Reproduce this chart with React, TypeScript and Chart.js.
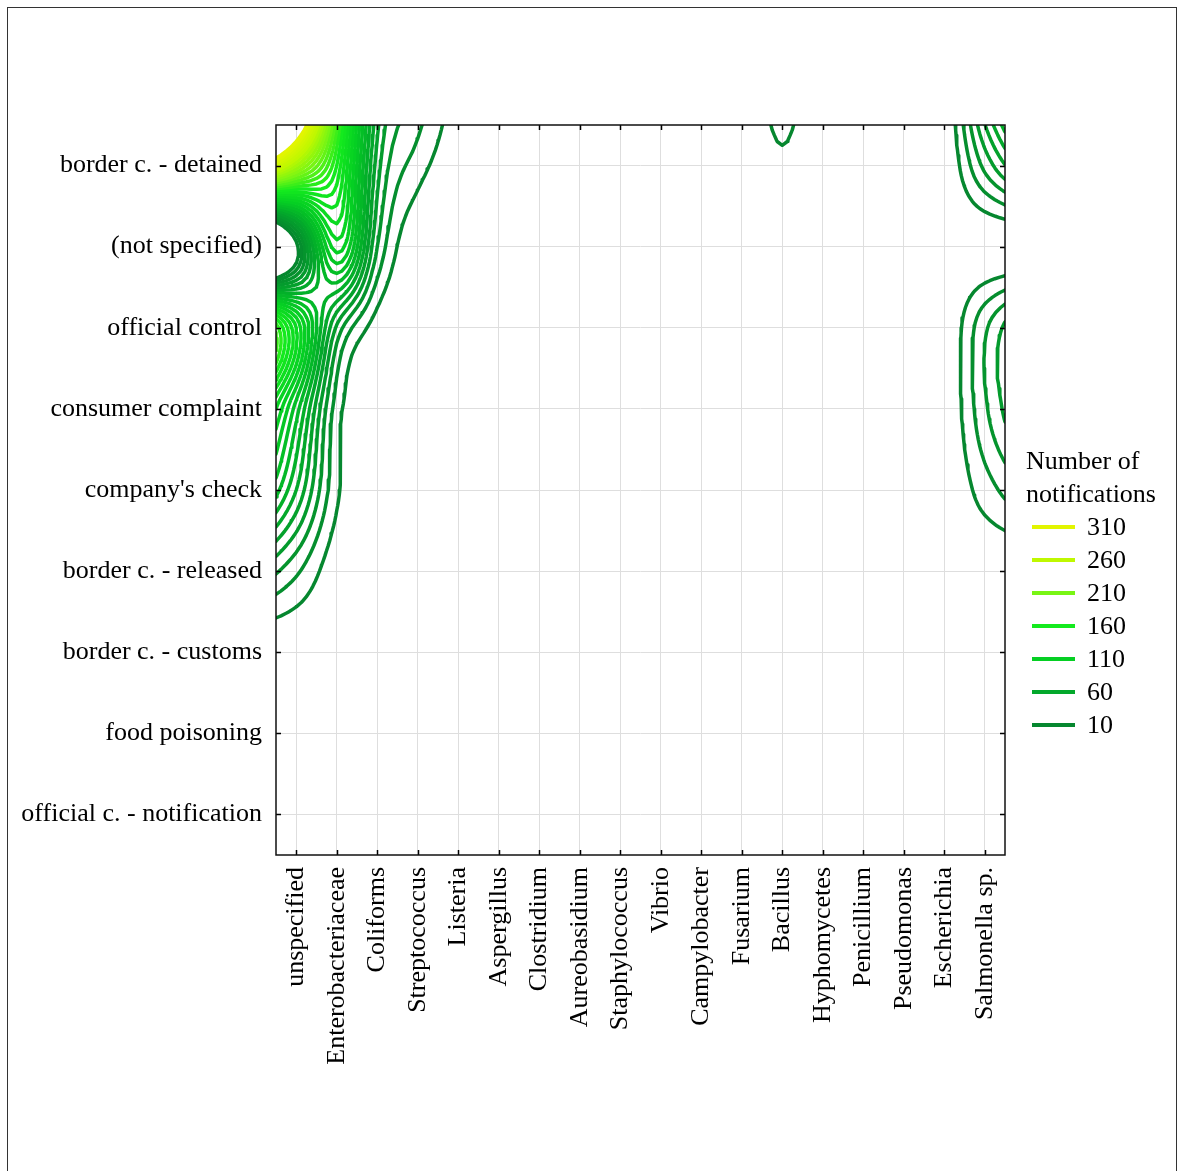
import React, { useEffect, useRef } from 'react';
import { Chart, registerables } from 'chart.js';

Chart.register(...registerables);

// Categories
const hazards = [
  'unspecified', 'Enterobacteriaceae', 'Coliforms', 'Streptococcus', 'Listeria',
  'Aspergillus', 'Clostridium', 'Aureobasidium', 'Staphylococcus', 'Vibrio',
  'Campylobacter', 'Fusarium', 'Bacillus', 'Hyphomycetes', 'Penicillium',
  'Pseudomonas', 'Escherichia', 'Salmonella sp.',
];
const bases = [
  'border c. - detained', '(not specified)', 'official control', 'consumer complaint',
  "company's check", 'border c. - released', 'border c. - customs', 'food poisoning',
  'official c. - notification',
];

// Number of notifications per notification basis (one value per hazard, in hazards order)
const borderDetained =       [240, 160, 45, 15, 3, 0, 0, 0, 0, 0, 0, 0, 8, 0, 0, 0, 0, 33];
const notSpecified =         [5, 115, 30, 0, 0, 0, 0, 0, 0, 0, 0, 0, 0, 0, 0, 0, 0, 0];
const officialControl =      [130, 38, 5, 0, 0, 0, 0, 0, 0, 0, 0, 0, 0, 0, 0, 0, 0, 28];
const consumerComplaint =    [85, 15, 0, 0, 0, 0, 0, 0, 0, 0, 0, 0, 0, 0, 0, 0, 0, 28];
const companysCheck =        [60, 12, 0, 0, 0, 0, 0, 0, 0, 0, 0, 0, 0, 0, 0, 0, 0, 15];
const borderReleased =       [22, 3, 0, 0, 0, 0, 0, 0, 0, 0, 0, 0, 0, 0, 0, 0, 0, 0];
const borderCustoms =        [0, 0, 0, 0, 0, 0, 0, 0, 0, 0, 0, 0, 0, 0, 0, 0, 0, 0];
const foodPoisoning =        [0, 0, 0, 0, 0, 0, 0, 0, 0, 0, 0, 0, 0, 0, 0, 0, 0, 0];
const officialNotification = [0, 0, 0, 0, 0, 0, 0, 0, 0, 0, 0, 0, 0, 0, 0, 0, 0, 0];

// Contour levels and legend
const contourLevels = [10, 20, 30, 40, 50, 60, 70, 80, 90, 100, 110, 120, 130, 140, 150, 160,
  170, 180, 190, 200, 210, 220, 230, 240, 250, 260, 270, 280, 290, 300, 310];
const legendLevels = [310, 260, 210, 160, 110, 60, 10];
const legendColors = ['#e2f500', '#bff800', '#78f514', '#14ea1e', '#05cf23', '#03a82b', '#06872f'];
const legendTitle = ['Number of', 'notifications'];

const FONT = '"Liberation Serif", "Times New Roman", serif';

function hexToRgb(h: string) {
  const n = parseInt(h.slice(1), 16);
  return [(n >> 16) & 255, (n >> 8) & 255, n & 255];
}

function levelColor(L: number) {
  const stops = legendLevels.map((v, i) => ({ v, c: hexToRgb(legendColors[i]) })).sort((a, b) => a.v - b.v);
  if (L <= stops[0].v) return legendColors[legendColors.length - 1];
  if (L >= stops[stops.length - 1].v) return legendColors[0];
  for (let i = 0; i < stops.length - 1; i++) {
    const a = stops[i], b = stops[i + 1];
    if (L >= a.v && L <= b.v) {
      const t = (L - a.v) / (b.v - a.v);
      const c = a.c.map((x, k) => Math.round(x + (b.c[k] - x) * t));
      return `rgb(${c[0]},${c[1]},${c[2]})`;
    }
  }
  return legendColors[0];
}

function catmull(p0: number, p1: number, p2: number, p3: number, t: number) {
  return 0.5 * (2 * p1 + (-p0 + p2) * t + (2 * p0 - 5 * p1 + 4 * p2 - p3) * t * t
    + (-p0 + 3 * p1 - 3 * p2 + p3) * t * t * t);
}

function buildContours(grid: number[][], levels: number[]) {
  const nR = grid.length, nC = grid[0].length;
  const colVal = (r: number, c: number) => {
    if (c < 0) return grid[r][0] + c * (grid[r][1] - grid[r][0]);
    if (c > nC - 1) return grid[r][nC - 1] + (c - nC + 1) * (grid[r][nC - 1] - grid[r][nC - 2]);
    return grid[r][c];
  };
  const val = (r: number, c: number) => {
    if (r < 0) return colVal(0, c) + r * (colVal(1, c) - colVal(0, c));
    if (r > nR - 1) return colVal(nR - 1, c) + (r - nR + 1) * (colVal(nR - 1, c) - colVal(nR - 2, c));
    return colVal(r, c);
  };
  const field = (gi: number, gj: number) => {
    const c = Math.floor(gi), r = Math.floor(gj);
    const t = gi - c, u = gj - r;
    const rows: number[] = [];
    for (let k = -1; k <= 2; k++) {
      rows.push(catmull(val(r + k, c - 1), val(r + k, c), val(r + k, c + 1), val(r + k, c + 2), t));
    }
    return catmull(rows[0], rows[1], rows[2], rows[3], u);
  };
  const SX = 8, SY = 16;
  const nx = nC * SX + 1, ny = nR * SY + 1;
  const gx = (a: number) => -0.5 + a / SX;
  const gy = (b: number) => -0.5 + b / SY;
  const F: number[][] = [];
  for (let b = 0; b < ny; b++) {
    const row: number[] = [];
    for (let a = 0; a < nx; a++) row.push(field(gx(a), gy(b)));
    F.push(row);
  }
  return levels.map((L) => {
    const pos = new Map<string, [number, number]>();
    const segs: [string, string][] = [];
    const hE = (a: number, b: number) => {
      const k = `h${a},${b}`;
      if (!pos.has(k)) {
        const v0 = F[b][a], v1 = F[b][a + 1];
        const t = (L - v0) / (v1 - v0);
        pos.set(k, [gx(a) + t / SX, gy(b)]);
      }
      return k;
    };
    const vE = (a: number, b: number) => {
      const k = `v${a},${b}`;
      if (!pos.has(k)) {
        const v0 = F[b][a], v1 = F[b + 1][a];
        const t = (L - v0) / (v1 - v0);
        pos.set(k, [gx(a), gy(b) + t / SY]);
      }
      return k;
    };
    for (let b = 0; b < ny - 1; b++) {
      for (let a = 0; a < nx - 1; a++) {
        const v00 = F[b][a], v10 = F[b][a + 1], v11 = F[b + 1][a + 1], v01 = F[b + 1][a];
        const s00 = v00 >= L, s10 = v10 >= L, s11 = v11 >= L, s01 = v01 >= L;
        const e: (string | null)[] = [
          s00 !== s10 ? hE(a, b) : null,
          s10 !== s11 ? vE(a + 1, b) : null,
          s01 !== s11 ? hE(a, b + 1) : null,
          s00 !== s01 ? vE(a, b) : null,
        ];
        const present = e.filter((x) => x !== null) as string[];
        if (present.length === 2) {
          segs.push([present[0], present[1]]);
        } else if (present.length === 4) {
          const center = (v00 + v10 + v11 + v01) / 4 >= L;
          if (center === s00) {
            segs.push([e[0]!, e[1]!]);
            segs.push([e[2]!, e[3]!]);
          } else {
            segs.push([e[3]!, e[0]!]);
            segs.push([e[1]!, e[2]!]);
          }
        }
      }
    }
    const adj = new Map<string, number[]>();
    segs.forEach((s, idx) => {
      for (const k of s) {
        if (!adj.has(k)) adj.set(k, []);
        adj.get(k)!.push(idx);
      }
    });
    const used = new Uint8Array(segs.length);
    const data: { x: number; y: number }[] = [];
    for (let s0 = 0; s0 < segs.length; s0++) {
      if (used[s0]) continue;
      used[s0] = 1;
      const chain = [segs[s0][0], segs[s0][1]];
      for (const dir of [1, -1]) {
        for (;;) {
          const end = dir === 1 ? chain[chain.length - 1] : chain[0];
          const next = (adj.get(end) || []).find((i) => !used[i]);
          if (next === undefined) break;
          used[next] = 1;
          const other = segs[next][0] === end ? segs[next][1] : segs[next][0];
          if (dir === 1) chain.push(other); else chain.unshift(other);
        }
      }
      for (const k of chain) {
        const p = pos.get(k)!;
        data.push({ x: p[0], y: p[1] });
      }
      data.push({ x: NaN, y: NaN });
    }
    return data;
  });
}

const framePlugin = {
  id: 'frameTicksLegend',
  afterDraw(chart: any) {
    const { ctx, chartArea: a, scales } = chart;
    ctx.save();
    ctx.strokeStyle = '#000';
    ctx.lineWidth = 1.5;
    const TL = 5;
    ctx.beginPath();
    hazards.forEach((_, i) => {
      const px = Math.round(scales.x.getPixelForValue(i)) + 0.5;
      ctx.moveTo(px, a.bottom); ctx.lineTo(px, a.bottom - TL);
      ctx.moveTo(px, a.top); ctx.lineTo(px, a.top + TL);
    });
    bases.forEach((_, j) => {
      const py = Math.round(scales.y.getPixelForValue(j)) + 0.5;
      ctx.moveTo(a.left, py); ctx.lineTo(a.left + TL, py);
      ctx.moveTo(a.right, py); ctx.lineTo(a.right - TL, py);
    });
    ctx.stroke();
    ctx.lineWidth = 1.5;
    ctx.strokeStyle = '#111';
    ctx.strokeRect(a.left, a.top, a.right - a.left, a.bottom - a.top);
    ctx.font = `26px ${FONT}`;
    ctx.fillStyle = '#000';
    ctx.textBaseline = 'middle';
    ctx.textAlign = 'left';
    const lx = a.right + 21;
    const ty = a.top + 337;
    legendTitle.forEach((t, k) => ctx.fillText(t, lx, ty + k * 33));
    legendLevels.forEach((v, k) => {
      const y = ty + 65 + k * 33;
      ctx.strokeStyle = legendColors[k];
      ctx.lineWidth = 4;
      ctx.beginPath();
      ctx.moveTo(a.right + 27, y);
      ctx.lineTo(a.right + 70, y);
      ctx.stroke();
      ctx.fillText(String(v), a.right + 82, y + 1);
    });
    ctx.restore();
  },
};

export default function App() {
  const ref = useRef<HTMLCanvasElement | null>(null);
  useEffect(() => {
    if (!ref.current) return;
    const grid = [borderDetained, notSpecified, officialControl, consumerComplaint, companysCheck,
      borderReleased, borderCustoms, foodPoisoning, officialNotification];
    const lines = buildContours(grid, contourLevels);
    const datasets = contourLevels
      .map((L, k) => ({
        label: String(L),
        data: lines[k],
        showLine: true,
        borderColor: levelColor(L),
        backgroundColor: levelColor(L),
        borderWidth: 3.5,
        pointRadius: 0,
        pointHoverRadius: 0,
        spanGaps: false,
        tension: 0,
        fill: false,
        borderCapStyle: 'round' as const,
        borderJoinStyle: 'round' as const,
      }))
      .reverse();
    const chart = new Chart(ref.current, {
      type: 'scatter',
      data: { datasets },
      options: {
        responsive: false,
        animation: false,
        events: [],
        layout: { padding: { left: 0, right: 171, top: 117, bottom: 66 } },
        plugins: { legend: { display: false }, tooltip: { enabled: false } },
        scales: {
          x: {
            type: 'linear',
            position: 'bottom',
            min: -0.5,
            max: 17.5,
            afterBuildTicks: (s: any) => { s.ticks = hazards.map((_, i) => ({ value: i })); },
            afterFit: (s: any) => { s.height = 250; },
            grid: { color: '#dedede', lineWidth: 1, drawTicks: false },
            border: { display: false },
            ticks: {
              autoSkip: false,
              minRotation: 90,
              maxRotation: 90,
              padding: 12,
              color: '#000',
              font: { family: FONT, size: 26 },
              callback: (v: any) => hazards[v] ?? '',
            },
          },
          y: {
            type: 'linear',
            reverse: true,
            min: -0.5,
            max: 8.5,
            afterBuildTicks: (s: any) => { s.ticks = bases.map((_, i) => ({ value: i })); },
            afterFit: (s: any) => { s.width = 268; },
            grid: { color: '#dedede', lineWidth: 1, drawTicks: false },
            border: { display: false },
            ticks: {
              autoSkip: false,
              padding: 14,
              color: '#000',
              font: { family: FONT, size: 26 },
              callback: (v: any) => bases[v] ?? '',
            },
          },
        },
      },
      plugins: [framePlugin],
    });
    return () => chart.destroy();
  }, []);

  return (
    <div
      style={{
        position: 'absolute',
        left: 7,
        top: 7,
        width: 1170,
        height: 1164,
        boxSizing: 'border-box',
        borderTop: '1px solid #333',
        borderLeft: '1px solid #333',
        borderRight: '1px solid #333',
        background: '#fff',
      }}
    >
      <canvas ref={ref} width={1168} height={1163} style={{ display: 'block' }} />
    </div>
  );
}
